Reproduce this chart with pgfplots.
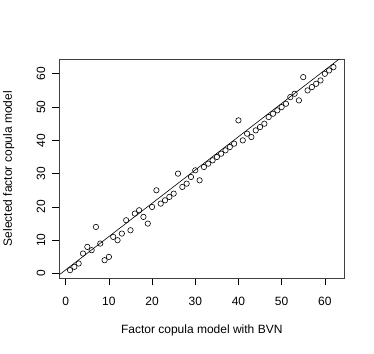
\documentclass[border=0pt]{standalone}
\usepackage{fontspec}
\setmainfont{Liberation Sans}
\usepackage{pgfplots}
\pgfplotsset{compat=1.18}

\begin{document}
\begin{tikzpicture}
\useasboundingbox (-59.5pt,-74.7pt) rectangle (314.5pt,278.3pt);
\begin{axis}[
  scale only axis, width=284.5pt, height=219.3pt,
  xmin=-1.44, xmax=64.44, ymin=-1.44, ymax=64.44,
  xtick={0,10,...,60}, ytick={0,10,...,60},
  tick pos=left, tick align=outside, major tick length=7pt,
  every tick/.style={black, line width=0.6pt},
  axis line style={black!75, line width=0.6pt},
  font=\fontsize{12}{14}\selectfont,
  /pgf/number format/assume math mode=true,
  xticklabel style={anchor=north, inner sep=0pt},
  xticklabel shift=12pt,
  yticklabel style={rotate=90, anchor=south, inner sep=0pt},
  yticklabel shift=7pt,
  xlabel={Factor copula model with BVN},
  ylabel={Selected factor copula model},
  xlabel style={at={(axis description cs:0.5,-0.2371)}, anchor=center},
  ylabel style={at={(axis description cs:-0.178,0.5)}, anchor=center},
]
\addplot[only marks, mark=o, mark size=2.7pt, mark options={black, line width=0.6pt}] coordinates {
(1,1) (2,2) (3,3) (4,6) (5,8) (6,7) (7,14) (8,9) (9,4) (10,5)
(11,11) (12,10) (13,12) (14,16) (15,13) (16,18) (17,19) (18,17) (19,15) (20,20)
(21,25) (22,21) (23,22) (24,23) (25,24) (26,30) (27,26) (28,27) (29,29) (30,31)
(31,28) (32,32) (33,33) (34,34) (35,35) (36,36) (37,37) (38,38) (39,39) (40,46)
(41,40) (42,42) (43,41) (44,43) (45,44) (46,45) (47,47) (48,48) (49,49) (50,50)
(51,51) (52,53) (53,54) (54,52) (55,59) (56,55) (57,56) (58,57) (59,58) (60,60)
(61,61) (62,62)
};
\addplot[black, line width=0.6pt] coordinates {(-1.44,-0.34) (64.44,65.54)};
\end{axis}
\end{tikzpicture}
\end{document}
